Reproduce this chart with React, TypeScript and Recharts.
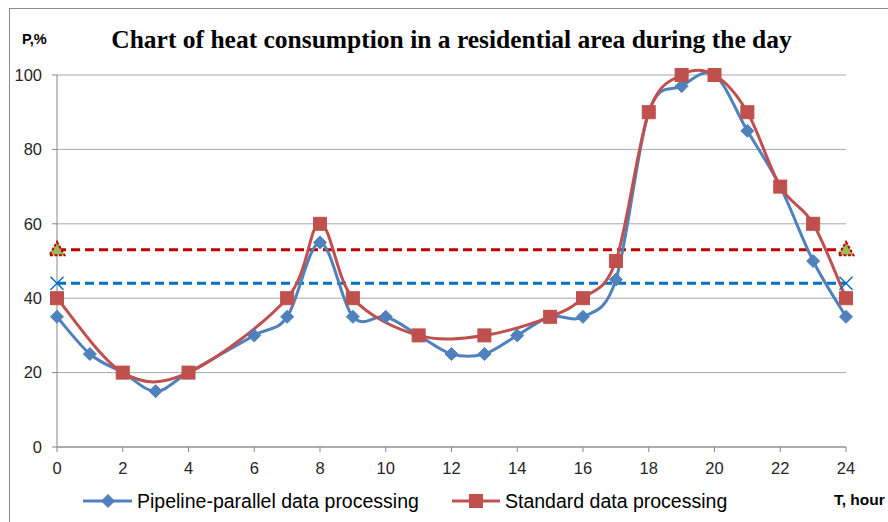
import { LineChart, Line, XAxis, YAxis, CartesianGrid } from "recharts";

// hours and load (%)
const pipelineHours = [0, 1, 2, 3, 4, 6, 7, 8, 9, 10, 11, 12, 13, 14, 15, 16, 17, 18, 19, 20, 21, 22, 23, 24];
const pipelineValues = [35, 25, 20, 15, 20, 30, 35, 55, 35, 35, 30, 25, 25, 30, 35, 35, 45, 90, 97, 100, 85, 70, 50, 35];

const standardHours = [0, 2, 4, 7, 8, 9, 11, 13, 15, 16, 17, 18, 19, 20, 21, 22, 23, 24];
const standardValues = [40, 20, 20, 40, 60, 40, 30, 30, 35, 40, 50, 90, 100, 100, 90, 70, 60, 40];

const levelHours = [0, 24];
const standardLevel = [53, 53];
const pipelineLevel = [44, 44];

const xTicks = [0, 2, 4, 6, 8, 10, 12, 14, 16, 18, 20, 22, 24];
const yTicks = [0, 20, 40, 60, 80, 100];

const BLUE = "#4f81bd";
const RED = "#c0504d";
const DASH_RED = "#c00000";
const DASH_BLUE = "#0070c0";
const FONT = "'Liberation Sans', Arial, sans-serif";

const toRows = (xs: number[], ys: number[]) => xs.map((x, i) => ({ x, y: ys[i] }));

const pipelineData = toRows(pipelineHours, pipelineValues);
const standardData = toRows(standardHours, standardValues);
const standardLevelData = toRows(levelHours, standardLevel);
const pipelineLevelData = toRows(levelHours, pipelineLevel);

// Excel-like smoothing (catmull-rom style bezier)
const excelSmooth = (context: any) => {
  let pts: number[][] = [];
  return {
    areaStart() {},
    areaEnd() {},
    lineStart() {
      pts = [];
    },
    point(x: number, y: number) {
      pts.push([+x, +y]);
    },
    lineEnd() {
      if (!pts.length) return;
      context.moveTo(pts[0][0], pts[0][1]);
      const t = 1 / 6;
      for (let i = 0; i < pts.length - 1; i++) {
        const p0 = pts[i - 1] || pts[i];
        const p1 = pts[i];
        const p2 = pts[i + 1];
        const p3 = pts[i + 2] || p2;
        context.bezierCurveTo(
          p1[0] + (p2[0] - p0[0]) * t,
          p1[1] + (p2[1] - p0[1]) * t,
          p2[0] - (p3[0] - p1[0]) * t,
          p2[1] - (p3[1] - p1[1]) * t,
          p2[0],
          p2[1]
        );
      }
    },
  };
};

const diamond = (p: any) => {
  const { cx, cy, index } = p;
  const r = 6.5;
  return (
    <polygon
      key={`d-${index}`}
      points={`${cx},${cy - r} ${cx + r},${cy} ${cx},${cy + r} ${cx - r},${cy}`}
      fill={BLUE}
      stroke={BLUE}
      strokeWidth={1}
    />
  );
};

const square = (p: any) => {
  const { cx, cy, index } = p;
  return <rect key={`s-${index}`} x={cx - 6.5} y={cy - 6.5} width={13} height={13} fill={RED} stroke={RED} strokeWidth={1} />;
};

const triangle = (p: any) => {
  const { cx, cy, index } = p;
  return (
    <polygon
      key={`t-${index}`}
      points={`${cx},${cy - 8} ${cx + 7.5},${cy + 5.5} ${cx - 7.5},${cy + 5.5}`}
      fill="#9bbb59"
      stroke={DASH_RED}
      strokeWidth={2}
      strokeDasharray="3 1.5"
    />
  );
};

const cross = (p: any) => {
  const { cx, cy, index } = p;
  const r = 6.5;
  return (
    <g key={`x-${index}`} stroke={DASH_BLUE} strokeWidth={1.5}>
      <line x1={cx - r} y1={cy - r} x2={cx + r} y2={cy + r} />
      <line x1={cx - r} y1={cy + r} x2={cx + r} y2={cy - r} />
    </g>
  );
};

function LegendBox() {
  return (
    <svg width={888} height={28} style={{ display: "block" }}>
      <line x1={83} y1={13} x2={132} y2={13} stroke={BLUE} strokeWidth={3} />
      {diamond({ cx: 108, cy: 13, index: 0 })}
      <text x={137} y={20} fontFamily={FONT} fontSize={19.5} fill="#000">
        Pipeline-parallel data processing
      </text>
      <line x1={452} y1={13} x2={500} y2={13} stroke={RED} strokeWidth={3} />
      {square({ cx: 476, cy: 13, index: 0 })}
      <text x={505} y={20} fontFamily={FONT} fontSize={19.5} fill="#000">
        Standard data processing
      </text>
    </svg>
  );
}

export default function App() {
  return (
    <div style={{ position: "absolute", left: 0, top: 0, width: 888, height: 522, overflow: "hidden", background: "#fff" }}>
      <div style={{ position: "absolute", left: 9, top: 8, width: 920, height: 560, border: "1px solid #8c8c8c" }} />
      <div
        style={{
          position: "absolute",
          left: 0,
          top: 25,
          width: 903,
          textAlign: "center",
          fontFamily: "'Liberation Serif', 'Times New Roman', serif",
          fontWeight: "bold",
          fontSize: 25.5,
          lineHeight: "30px",
          color: "#000",
        }}
      >
        Chart of heat consumption in a residential area during the day
      </div>
      <div style={{ position: "absolute", left: 22, top: 31, fontFamily: FONT, fontWeight: "bold", fontSize: 14.5, lineHeight: "16px" }}>
        P,%
      </div>
      <div style={{ position: "absolute", left: 834, top: 491, fontFamily: FONT, fontWeight: "bold", fontSize: 15.5, lineHeight: "18px" }}>
        T, hour
      </div>
      <div style={{ position: "absolute", left: 0, top: 0 }}>
        <LineChart width={888} height={522} margin={{ top: 75, right: 42, left: 10, bottom: 45 }}>
          <CartesianGrid horizontal vertical={false} stroke="#a8a8a8" />
          <XAxis
            dataKey="x"
            type="number"
            domain={[0, 24]}
            ticks={xTicks}
            allowDuplicatedCategory={false}
            height={30}
            tickSize={5}
            tickMargin={10}
            stroke="#868686"
            tick={{ fill: "#262626", fontSize: 16.5, fontFamily: FONT }}
          />
          <YAxis
            dataKey="y"
            type="number"
            domain={[0, 100]}
            ticks={yTicks}
            width={47}
            tickSize={5}
            tickMargin={10}
            stroke="#868686"
            tick={{ fill: "#262626", fontSize: 16.5, fontFamily: FONT }}
          />
          <Line
            data={standardLevelData}
            dataKey="y"
            type="linear"
            stroke={DASH_RED}
            strokeWidth={3}
            strokeDasharray="9 5"
            dot={triangle}
            activeDot={false}
            isAnimationActive={false}
            legendType="none"
          />
          <Line
            data={pipelineLevelData}
            dataKey="y"
            type="linear"
            stroke={DASH_BLUE}
            strokeWidth={3}
            strokeDasharray="9 5"
            dot={cross}
            activeDot={false}
            isAnimationActive={false}
            legendType="none"
          />
          <Line
            data={pipelineData}
            dataKey="y"
            name="Pipeline-parallel data processing"
            type={excelSmooth as any}
            stroke={BLUE}
            strokeWidth={3}
            dot={diamond}
            activeDot={false}
            isAnimationActive={false}
          />
          <Line
            data={standardData}
            dataKey="y"
            name="Standard data processing"
            type={excelSmooth as any}
            stroke={RED}
            strokeWidth={3}
            dot={square}
            activeDot={false}
            isAnimationActive={false}
          />
        </LineChart>
      </div>
      <div style={{ position: "absolute", left: 0, top: 488 }}>
        <LegendBox />
      </div>
    </div>
  );
}
